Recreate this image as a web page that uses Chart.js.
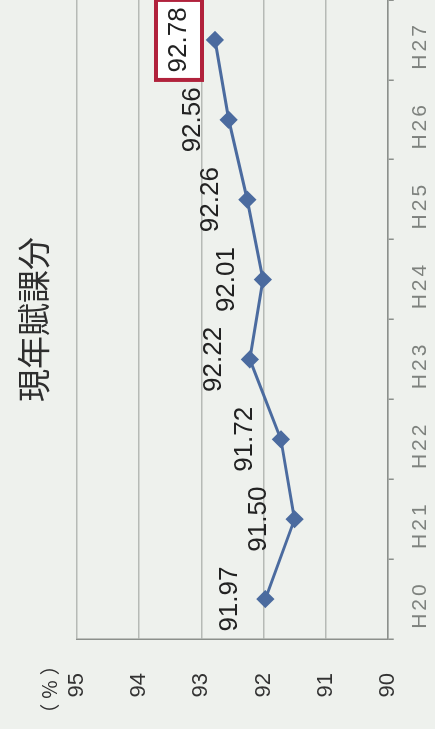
<!DOCTYPE html>
<html lang="ja">
<head>
    <meta charset="UTF-8">
    <title>現年賦課分</title>
    <script src="https://cdn.jsdelivr.net/npm/chart.js"></script>
    <style>
        html, body {
            margin: 0;
            padding: 0;
            width: 435px;
            height: 729px;
            overflow: hidden;
            background: #eef1ed;
        }
        /* the chart is laid out landscape and turned a quarter to the left */
        #turn {
            position: absolute;
            left: 0;
            top: 0;
            width: 729px;
            height: 435px;
            transform-origin: 0 0;
            transform: translate(0, 729px) rotate(-90deg);
        }
    </style>
</head>
<body>
    <div id="turn">
        <canvas id="chart" width="729" height="435"></canvas>
    </div>

    <script>
        const years = ['H20', 'H21', 'H22', 'H23', 'H24', 'H25', 'H26', 'H27'];
        const rates = [91.97, 91.50, 91.72, 92.22, 92.01, 92.26, 92.56, 92.78];
        const yTicks = [90, 91, 92, 93, 94, 95];
        const titleText = '現年賦課分';
        const unitText = '（%）';
        const highlightIndex = rates.length - 1;

        const lineColor = '#4b6b9f';

        const extras = {
            id: 'extras',
            afterDatasetsDraw(chart) {
                const ctx = chart.ctx;
                const meta = chart.getDatasetMeta(0);
                ctx.save();
                ctx.letterSpacing = '0px';
                ctx.font = '26px "Liberation Sans"';
                ctx.textAlign = 'center';
                ctx.textBaseline = 'middle';
                meta.data.forEach((pt, i) => {
                    const x = pt.x;
                    const y = pt.y - 36;
                    if (i === highlightIndex) {
                        ctx.fillStyle = '#ffffff';
                        ctx.fillRect(x - 40, y - 23, 80, 46);
                        ctx.strokeStyle = '#b1223c';
                        ctx.lineWidth = 4;
                        ctx.strokeRect(x - 40, y - 23, 80, 46);
                    }
                    ctx.fillStyle = '#222';
                    ctx.fillText(rates[i].toFixed(2), x, y);
                });
                ctx.restore();
                // x labels are drawn after this (ticks z = 1) and are spaced out
                ctx.letterSpacing = '3px';
            },
            afterDraw(chart) {
                const ctx = chart.ctx;
                const area = chart.chartArea;
                ctx.letterSpacing = '0px';
                ctx.save();
                ctx.fillStyle = '#2e2e2e';
                ctx.textAlign = 'center';
                ctx.textBaseline = 'middle';
                ctx.font = '33px "Noto Sans CJK JP"';
                ctx.fillText(titleText, (area.left + area.right) / 2, 33);
                ctx.font = '20px "Noto Sans CJK JP"';
                ctx.letterSpacing = '5px';
                ctx.fillText(unitText, 42, 49);
                ctx.restore();
                ctx.letterSpacing = '0px';
            }
        };

        new Chart(document.getElementById('chart'), {
            type: 'line',
            data: {
                labels: years,
                datasets: [{
                    data: rates,
                    borderColor: lineColor,
                    backgroundColor: lineColor,
                    borderWidth: 3,
                    pointStyle: 'rectRot',
                    pointRadius: 7,
                    pointBackgroundColor: lineColor,
                    pointBorderColor: lineColor,
                    tension: 0,
                    clip: false
                }]
            },
            options: {
                responsive: false,
                animation: false,
                layout: {
                    autoPadding: false,
                    padding: { top: 77, right: 0, bottom: 0, left: 0 }
                },
                plugins: {
                    legend: { display: false },
                    tooltip: { enabled: false }
                },
                scales: {
                    x: {
                        offset: true,
                        grid: {
                            offset: true,
                            drawOnChartArea: false,
                            drawTicks: true,
                            tickLength: 6,
                            color: '#8c908c',
                            lineWidth: 1.5
                        },
                        border: { display: true, color: '#8c908c', width: 1.5 },
                        ticks: {
                            z: 1,
                            padding: 14,
                            labelOffset: -6,
                            color: '#7e827e',
                            font: { family: 'Liberation Sans', size: 21 }
                        },
                        afterFit: s => { s.height = 43; }
                    },
                    y: {
                        min: yTicks[0],
                        max: yTicks[yTicks.length - 1],
                        afterBuildTicks: s => { s.ticks = yTicks.map(v => ({ value: v })); },
                        grid: {
                            color: '#b6bab6',
                            lineWidth: 1.5,
                            drawTicks: false
                        },
                        border: { display: true, color: '#8c908c', width: 1.5 },
                        ticks: {
                            padding: 34,
                            color: '#333',
                            font: { family: 'Liberation Sans', size: 22 }
                        },
                        afterFit: s => { s.width = 90; }
                    }
                }
            },
            plugins: [extras]
        });
    </script>
</body>
</html>
